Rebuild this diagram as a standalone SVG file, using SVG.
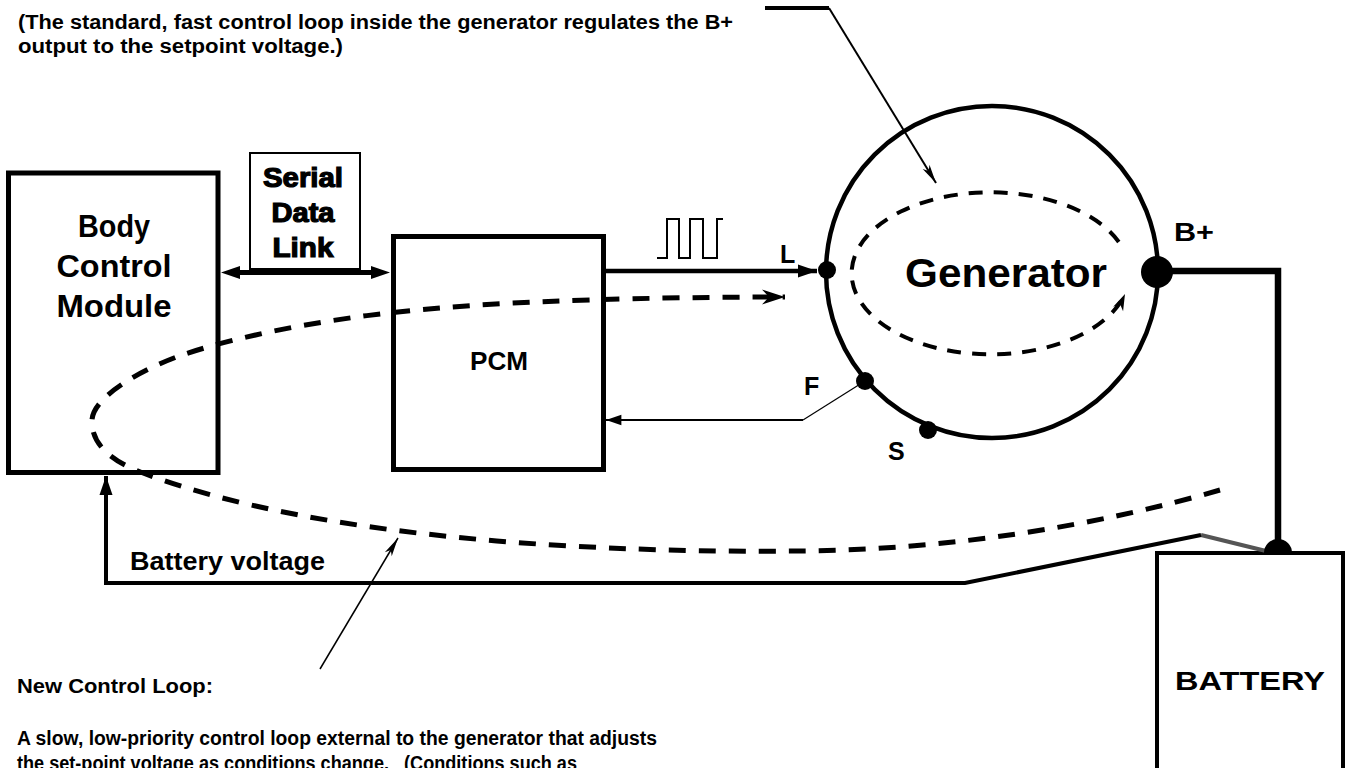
<svg xmlns="http://www.w3.org/2000/svg" width="1347" height="768" viewBox="0 0 1347 768">
  <style>
    text { font-family: "Liberation Sans", Arial, sans-serif; font-weight: bold; fill: #000; }
    .box { fill: #fff; stroke: #000; stroke-width: 5; }
    .thin { fill: none; stroke: #000; stroke-width: 2; }
    .dash { fill: none; stroke: #000; stroke-width: 5; stroke-dasharray: 17 13; }
    .dash2 { fill: none; stroke: #000; stroke-width: 4; stroke-dasharray: 14 11; }
    .note { font-size: 20px; }
    .pin { font-size: 25px; }
    .black { font-weight: 900; stroke: #000; stroke-width: 1.2; }
  </style>
  <defs>
    <marker id="solid" viewBox="-20 -7 21 14" markerWidth="21" markerHeight="14" refX="0" refY="0" orient="auto" markerUnits="userSpaceOnUse">
      <path d="M0,0 L-19,-6.5 L-19,6.5 Z" fill="#000"/>
    </marker>
    <marker id="solidsm" viewBox="-20 -7 21 14" markerWidth="17" markerHeight="12" refX="0" refY="0" orient="auto" markerUnits="userSpaceOnUse">
      <path d="M0,0 L-19,-6.5 L-19,6.5 Z" fill="#000"/>
    </marker>
    <marker id="stealth" viewBox="-24 -9 25 18" markerWidth="25" markerHeight="18" refX="0" refY="0" orient="auto" markerUnits="userSpaceOnUse">
      <path d="M0,0 L-23,-7.5 L-16,0 L-23,7.5 Z" fill="#000"/>
    </marker>
    <marker id="stealthsm" viewBox="-24 -9 25 18" markerWidth="18" markerHeight="13" refX="0" refY="0" orient="auto" markerUnits="userSpaceOnUse">
      <path d="M0,0 L-23,-7.5 L-16,0 L-23,7.5 Z" fill="#000"/>
    </marker>
    <marker id="needle" viewBox="-20 -5 21 10" markerWidth="21" markerHeight="10" refX="0" refY="0" orient="auto" markerUnits="userSpaceOnUse">
      <path d="M0,0 L-19,-4 L-14,0 L-19,4 Z" fill="#000"/>
    </marker>
  </defs>

  <rect width="1347" height="768" fill="#fff"/>

  <!-- Annotations -->
  <g id="note-top">
    <text class="note" x="18" y="29" textLength="715" lengthAdjust="spacingAndGlyphs">(The standard, fast control loop inside the generator regulates the B+</text>
    <text class="note" x="18" y="53" textLength="325" lengthAdjust="spacingAndGlyphs">output to the setpoint voltage.)</text>
  </g>
  <g id="note-bottom">
    <text class="note" x="17" y="693" textLength="196" lengthAdjust="spacingAndGlyphs">New Control Loop:</text>
    <text class="note" x="17" y="745" textLength="640" lengthAdjust="spacingAndGlyphs">A slow, low-priority control loop external to the generator that adjusts</text>
    <text class="note" x="17" y="770" textLength="560" lengthAdjust="spacingAndGlyphs" xml:space="preserve">the set-point voltage as conditions change.   (Conditions such as</text>
  </g>

  <!-- Nodes -->
  <g id="bcm">
    <rect class="box" x="8.5" y="173" width="209.5" height="299.5"/>
    <text x="114" y="237" font-size="32" text-anchor="middle" textLength="72" lengthAdjust="spacingAndGlyphs">Body</text>
    <text x="114" y="277" font-size="32" text-anchor="middle" textLength="115" lengthAdjust="spacingAndGlyphs">Control</text>
    <text x="114" y="317" font-size="32" text-anchor="middle" textLength="115" lengthAdjust="spacingAndGlyphs">Module</text>
  </g>

  <g id="serial-link">
    <rect x="250" y="153" width="110" height="116" fill="#fff" stroke="#000" stroke-width="2"/>
    <text class="black" x="303" y="187" font-size="27" text-anchor="middle" textLength="80" lengthAdjust="spacingAndGlyphs">Serial</text>
    <text class="black" x="303" y="222" font-size="27" text-anchor="middle" textLength="63" lengthAdjust="spacingAndGlyphs">Data</text>
    <text class="black" x="303" y="257" font-size="27" text-anchor="middle" textLength="61" lengthAdjust="spacingAndGlyphs">Link</text>
  </g>

  <g id="pcm">
    <rect class="box" x="393.5" y="236.5" width="210" height="233"/>
    <text x="499" y="370" font-size="25" text-anchor="middle" textLength="58" lengthAdjust="spacingAndGlyphs">PCM</text>
  </g>

  <g id="battery">
    <rect x="1157" y="553" width="186" height="240" fill="#fff" stroke="#000" stroke-width="4"/>
    <text x="1250" y="690" font-size="25" text-anchor="middle" textLength="150" lengthAdjust="spacingAndGlyphs">BATTERY</text>
  </g>

  <!-- Connectors -->
  <g id="connectors">
    <!-- serial data link double arrow -->
    <line x1="240" y1="272.5" x2="372" y2="272.5" stroke="#000" stroke-width="5"/>
    <path d="M221,272.5 L240,266 L240,279 Z" fill="#000"/>
    <path d="M390,272.5 L371,266 L371,279 Z" fill="#000"/>
    <!-- PCM to L -->
    <line x1="606" y1="271" x2="817" y2="271" stroke="#000" stroke-width="4.5" marker-end="url(#solid)"/>
    <path class="thin" d="M657,258 H667 V219 H679 V258 H690 V219 H703 V258 H717 V219 H723"/>
    <!-- F to PCM -->
    <polyline points="865,381 803,420" fill="none" stroke="#000" stroke-width="1.2"/>
    <line x1="803" y1="420" x2="606" y2="420" stroke="#000" stroke-width="2" marker-end="url(#solidsm)"/>
    <!-- B+ to battery -->
    <polyline points="1157,271 1278,271 1278,551" fill="none" stroke="#000" stroke-width="6.5"/>
    <!-- battery voltage back to BCM -->
    <line x1="1266" y1="551" x2="1201" y2="535" stroke="#555" stroke-width="4"/>
    <polyline points="1201,535 965,583 106,583 106,476" fill="none" stroke="#000" stroke-width="4" marker-end="url(#solid)"/>
    <text x="130" y="570" font-size="25" textLength="195" lengthAdjust="spacingAndGlyphs">Battery voltage</text>
    <!-- new slow control loop -->
    <path class="dash" d="M1220,490 C1100,525 950,550 800,551 C600,553 320,540 143,473 C105,459 91,440 92,420 C93,398 137,371 182,355 C250,332 350,315 440,308 C520,301 650,297 785,297" marker-end="url(#stealth)"/>
    <!-- inner fast control loop -->
    <path class="dash2" d="M1118.8,242 A139,81 0 1 0 1125,294" marker-end="url(#stealthsm)"/>
    <!-- callout pointers -->
    <line x1="765" y1="8" x2="829" y2="8" stroke="#000" stroke-width="4"/>
    <line x1="829" y1="8" x2="936" y2="183" stroke="#000" stroke-width="2" marker-end="url(#needle)"/>
    <line x1="320" y1="669" x2="398" y2="538" stroke="#000" stroke-width="1.5" marker-end="url(#needle)"/>
  </g>

  <g id="generator">
    <circle cx="992" cy="272" r="166" fill="none" stroke="#000" stroke-width="4.5"/>
    <text x="1006" y="287" font-size="40" text-anchor="middle" textLength="202" lengthAdjust="spacingAndGlyphs">Generator</text>
    <circle cx="827" cy="270" r="9" fill="#000"/>
    <circle cx="865" cy="381" r="9" fill="#000"/>
    <circle cx="928" cy="430" r="9" fill="#000"/>
    <circle cx="1157" cy="272" r="16" fill="#000"/>
    <text class="pin" x="780" y="263">L</text>
    <text class="pin" x="804" y="395">F</text>
    <text class="pin" x="888" y="460">S</text>
    <text class="pin" x="1174" y="241" textLength="40" lengthAdjust="spacingAndGlyphs">B+</text>
  </g>

  <g id="battery-terminal">
    <path d="M1264,553 A14,14 0 0 1 1292,553 Z" fill="#000"/>
  </g>
</svg>
